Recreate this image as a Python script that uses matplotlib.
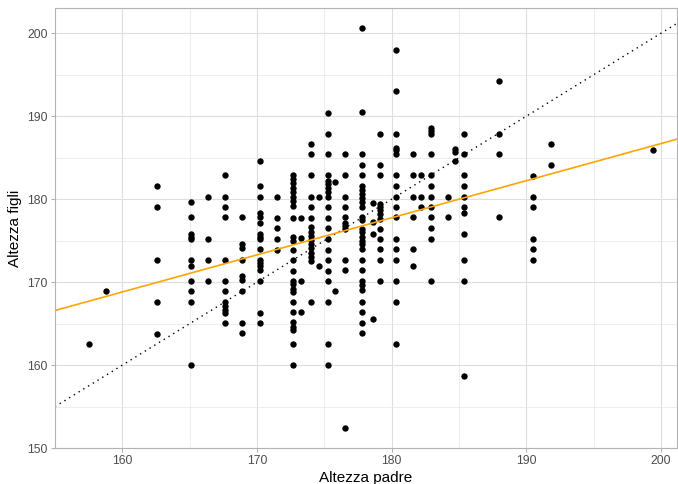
import numpy as np
import matplotlib.pyplot as plt

plt.rcParams['font.family'] = ['Liberation Sans', 'DejaVu Sans']

# Altezza padre (cm) -> altezze dei figli (cm)
padre_colonne = [157.5, 158.8, 162.6, 165.1, 166.4, 167.6, 168.9, 170.2, 171.5,
                 172.7, 173.3, 174.0, 174.6, 175.3, 175.8, 176.5, 177.8, 178.6,
                 179.1, 180.3, 181.6, 182.2, 182.9, 184.2, 184.7, 185.4, 188.0,
                 190.5, 191.8, 199.4]

figli_colonne = [
    [162.6],
    [168.9],
    [181.6, 179.0, 172.7, 167.6, 163.8],
    [179.6, 177.8, 175.8, 175.5, 175.2, 172.7, 172.0, 170.2, 168.9, 167.6, 160.0],
    [180.3, 175.2, 172.7, 170.2],
    [182.9, 180.3, 179.0, 177.8, 172.7, 170.2, 168.9, 167.6, 167.1, 166.7, 166.3, 165.1],
    [177.8, 174.6, 174.1, 172.7, 170.7, 170.3, 168.9, 165.1, 163.9],
    [184.6, 181.6, 180.3, 178.3, 177.8, 177.1, 175.8, 175.5, 175.2, 174.0, 172.7,
     172.3, 171.9, 171.5, 170.2, 166.3, 165.1],
    [180.3, 177.7, 176.5, 175.2, 173.9],
    [182.9, 182.4, 181.9, 181.4, 180.9, 180.3, 179.8, 179.2, 177.7, 175.4, 175.0,
     173.9, 172.7, 171.4, 170.2, 169.8, 169.2, 168.8, 167.6, 166.4, 165.2, 164.6,
     164.2, 162.6, 160.0],
    [177.7, 175.3, 170.2, 166.4],
    [186.6, 185.4, 182.9, 180.3, 179.0, 177.7, 176.6, 176.1, 175.6, 175.1, 174.6,
     174.1, 173.5, 173.0, 172.5, 167.6],
    [180.3, 172.0],
    [190.4, 187.9, 185.4, 182.9, 182.2, 181.8, 181.3, 180.9, 180.3, 179.0, 177.7,
     176.5, 175.2, 173.9, 172.7, 171.4, 170.2, 167.6, 162.5, 160.0],
    [182.1, 168.9],
    [185.4, 182.9, 180.3, 179.1, 177.8, 177.1, 176.8, 176.4, 172.7, 171.5, 152.4],
    [200.6, 190.5, 185.4, 184.1, 182.9, 181.6, 181.1, 180.6, 180.1, 179.6, 179.0,
     177.8, 177.5, 176.4, 176.0, 175.4, 175.0, 174.6, 174.0, 172.7, 171.5, 170.2,
     169.6, 169.0, 167.6, 166.4, 165.1, 163.9],
    [179.5, 177.2, 175.8, 165.6],
    [187.9, 184.1, 182.9, 179.4, 179.0, 178.7, 178.2, 177.6, 176.4, 175.2, 174.0,
     172.7, 170.2],
    [198.0, 193.0, 187.9, 186.2, 185.9, 185.4, 182.9, 181.6, 180.3, 179.0, 177.8,
     175.2, 174.0, 172.7, 170.2, 167.6, 162.6],
    [185.4, 182.9, 180.3, 177.8, 174.0, 172.0],
    [182.9, 180.3, 179.1],
    [188.6, 188.2, 187.9, 185.4, 182.9, 181.6, 180.3, 179.1, 177.8, 176.5, 175.2, 170.2],
    [180.3, 177.8],
    [186.0, 185.7, 184.6],
    [187.9, 185.4, 182.9, 181.6, 180.3, 179.1, 178.3, 175.8, 172.7, 170.2, 158.7],
    [194.2, 187.9, 185.4, 177.8],
    [182.8, 180.3, 179.1, 175.2, 174.0, 172.7],
    [186.7, 184.1],
    [185.9],
]

# retta di regressione
intercetta = 97.3
pendenza = 0.447

padre = np.concatenate([[p] * len(f) for p, f in zip(padre_colonne, figli_colonne)])
figli = np.concatenate(figli_colonne)

fig, ax = plt.subplots(figsize=(6.78, 4.84), dpi=100)
fig.subplots_adjust(left=0.081, right=0.999, top=0.983, bottom=0.074)

ax.set_xlim(155.44, 201.2)
ax.set_ylim(150.0, 203.0)

# griglia stile ggplot
ax.set_xticks([160, 170, 180, 190, 200])
ax.set_yticks([150, 160, 170, 180, 190, 200])
ax.set_xticks([155, 165, 175, 185, 195], minor=True)
ax.set_yticks([155, 165, 175, 185, 195], minor=True)
ax.grid(True, which='major', color='#DEDEDE', linewidth=0.8)
ax.grid(True, which='minor', color='#E6E6E6', linewidth=0.5)
ax.set_axisbelow(True)
for s in ax.spines.values():
    s.set_color('#B3B3B3')
    s.set_linewidth(0.8)
ax.tick_params(which='major', length=3, color='#B3B3B3', labelsize=8.8,
               labelcolor='#4D4D4D', pad=2)
ax.tick_params(which='minor', length=0)

ax.scatter(padre, figli, s=21, color='black', linewidths=0, zorder=3)

xx = np.array(ax.get_xlim())
# retta y = x
ax.plot(xx, xx, color='black', linestyle=(0, (1, 3)), linewidth=1.0, zorder=2)
# retta di regressione
ax.plot(xx, intercetta + pendenza * xx, color='orange', linewidth=1.2, zorder=4)

ax.set_xlabel('Altezza padre', fontsize=11, labelpad=3)
ax.set_ylabel('Altezza figli', fontsize=11, labelpad=4)

fig.savefig('out.png', dpi=100)
